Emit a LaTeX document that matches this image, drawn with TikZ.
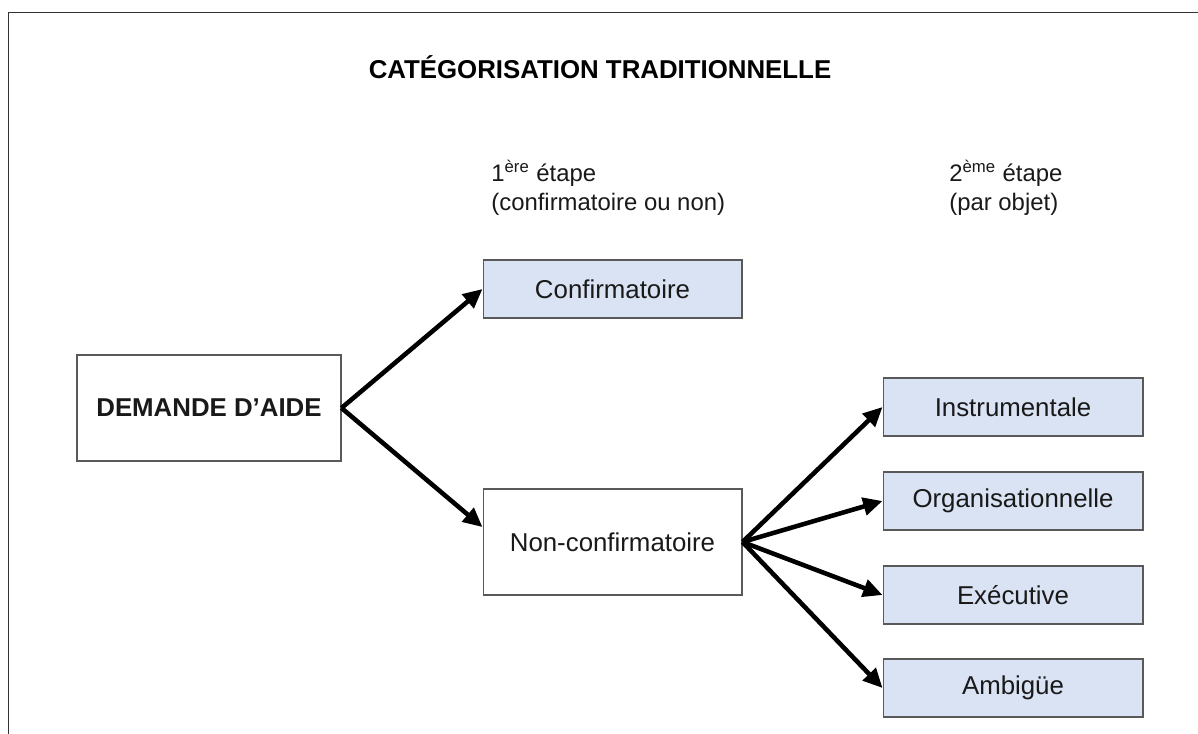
\documentclass[tikz,border=0pt]{standalone}
\usepackage{fontspec}
\setmainfont{Liberation Sans}
\usetikzlibrary{arrows.meta}

\definecolor{bleuclair}{RGB}{218,227,243}
\definecolor{bordgris}{RGB}{89,89,89}
\definecolor{texte}{RGB}{25,25,25}

\tikzset{
  boite/.style={draw=bordgris, line width=0.6pt, minimum width=5.18cm, minimum height=1.16cm, text=texte, font=\fontsize{14.7}{17}\selectfont},
  boitebleue/.style={boite, fill=bleuclair},
  fleche/.style={-{Triangle[length=11pt,width=10pt]}, line width=2.6pt},
  etape/.style={anchor=base west, align=left, inner sep=0pt, text=texte, font=\fontsize{13.6}{16}\selectfont}
}

\begin{document}
\begin{tikzpicture}[x=0.02cm, y=-0.02cm]
        \useasboundingbox (0,0) rectangle (1198,734);
        \draw[line width=0.8pt, color=black!80] (8.5,734) -- (8.5,12.5) -- (1198,12.5);

        \node[anchor=base, font=\bfseries\fontsize{14.7}{17}\selectfont] (titre) at (600,78) {CATÉGORISATION TRADITIONNELLE};

        % base = ligne du bas
        \node[etape] (etape1) at (491,210) {1\textsuperscript{ère} étape\\(confirmatoire ou non)};
        \node[etape] (etape2) at (949,210) {2\textsuperscript{ème} étape\\(par objet)};

        \node[boite, minimum width=5.28cm, minimum height=2.12cm, font=\bfseries\fontsize{14.7}{17}\selectfont] (demande) at (209,408) {DEMANDE D’AIDE};
        \node[boitebleue] (confirm) at (612.5,289) {Confirmatoire};
        \node[boite, minimum height=2.12cm] (nonconf) at (612.5,542) {Non-confirmatoire};

        \node[boitebleue, minimum width=5.2cm] (instru) at (1013,407) {Instrumentale};
        \node[boitebleue, minimum width=5.2cm] (organ) at (1013,501) {Organisationnelle};
        \node[boitebleue, minimum width=5.2cm] (execu) at (1013,595) {Exécutive};
        \node[boitebleue, minimum width=5.2cm] (ambig) at (1013,688) {Ambigüe};

        \draw[fleche] (demande.east) -- (confirm.west);
        \draw[fleche] (demande.east) -- ([yshift=8.5pt]nonconf.west);
        \foreach \cible in {instru,organ,execu,ambig}
            \draw[fleche] (nonconf.east) -- (\cible.west);

    \end{tikzpicture}
\end{document}
